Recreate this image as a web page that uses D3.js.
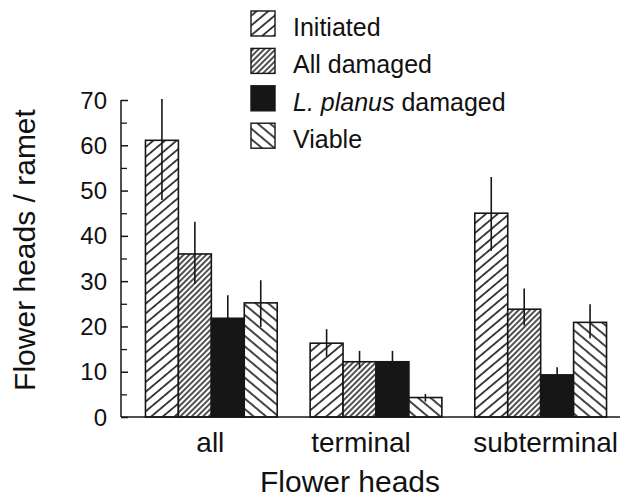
<!DOCTYPE html>
<html>
<head>
<meta charset="utf-8">
<script src="https://cdn.jsdelivr.net/npm/d3@7"></script>
<style>
  html, body { margin: 0; padding: 0; background: #fff; }
  svg { display: block; }
  text { font-family: "Liberation Sans", Arial, Helvetica, sans-serif; fill: #111; }
</style>
</head>
<body>
<svg id="chart" width="634" height="499"></svg>
<script>
// ---- data ----
const groups = ["all", "terminal", "subterminal"];
const seriesNames = ["Initiated", "All damaged", "L. planus damaged", "Viable"];
const initiated     = [61.1, 16.3, 45.0];
const allDamaged    = [36.0, 12.2, 23.8];
const planusDamaged = [21.8, 12.2, 9.3];
const viable        = [25.2, 4.3, 20.9];
const initiatedHi     = [70.2, 19.4, 53.0];
const allDamagedHi    = [43.1, 14.6, 28.4];
const planusDamagedHi = [26.9, 14.6, 11.0];
const viableHi        = [30.2, 5.1, 24.9];
const initiatedLo     = [47.9, 13.3, 36.7];
const allDamagedLo    = [29.4, 10.7, 20.2];
const planusDamagedLo = [16.7, 9.8, 7.6];
const viableLo        = [19.9, 3.4, 17.4];
const yTicks = [0, 10, 20, 30, 40, 50, 60, 70];
const yMinorTicks = [5, 15, 25, 35, 45, 55, 65];

const values = [initiated, allDamaged, planusDamaged, viable];
const his = [initiatedHi, allDamagedHi, planusDamagedHi, viableHi];
const los = [initiatedLo, allDamagedLo, planusDamagedLo, viableLo];

const rows = [];
seriesNames.forEach((s, si) => {
  groups.forEach((g, gi) => {
    rows.push({ series: s, si, group: g, v: values[si][gi], hi: his[si][gi], lo: los[si][gi] });
  });
});

// ---- layout ----
const svg = d3.select("#chart");
const ink = "#161616";
const x0 = d3.scaleBand().domain(groups).range([129, 623]).paddingInner(0.2).paddingOuter(0.1);
const x1 = d3.scaleBand().domain(seriesNames).range([0, x0.bandwidth()]);
const y = d3.scaleLinear().domain([0, 70]).range([417, 100]);

// ---- patterns ----
const defs = svg.append("defs");
function hatch(id, spacing, angle, sw) {
  const p = defs.append("pattern")
    .attr("id", id).attr("patternUnits", "userSpaceOnUse")
    .attr("width", spacing).attr("height", spacing)
    .attr("patternTransform", `rotate(${angle})`);
  p.append("rect").attr("width", spacing).attr("height", spacing).attr("fill", "#fff");
  p.append("line").attr("x1", spacing / 2).attr("y1", -1).attr("x2", spacing / 2).attr("y2", spacing + 1)
    .attr("stroke", ink).attr("stroke-width", sw);
}
hatch("pInit", 7.5, 50, 1.6);
hatch("pAll", 4, 45, 1.5);
hatch("pViable", 8, -50, 1.6);
const fills = ["url(#pInit)", "url(#pAll)", ink, "url(#pViable)"];

// ---- bars ----
svg.append("g").selectAll("rect").data(rows).join("rect")
  .attr("x", d => x0(d.group) + x1(d.series))
  .attr("y", d => y(d.v))
  .attr("width", x1.bandwidth())
  .attr("height", d => y(0) - y(d.v))
  .attr("fill", d => fills[d.si])
  .attr("stroke", ink).attr("stroke-width", 1.6);

// ---- error bars ----
svg.append("g").selectAll("line").data(rows).join("line")
  .attr("x1", d => x0(d.group) + x1(d.series) + x1.bandwidth() / 2)
  .attr("x2", d => x0(d.group) + x1(d.series) + x1.bandwidth() / 2)
  .attr("y1", d => y(d.hi))
  .attr("y2", d => y(d.lo))
  .attr("stroke", ink).attr("stroke-width", 1.6);

// ---- y axis ----
const yAxis = svg.append("g").attr("transform", "translate(121,0)")
  .call(d3.axisRight(y).tickValues(yTicks).tickSize(7).tickFormat(""));
yAxis.select(".domain").attr("d", `M0,${y(70)}V${y(0)}`).attr("stroke", ink).attr("stroke-width", 1.5);
yAxis.selectAll(".tick line").attr("stroke", ink).attr("stroke-width", 1.5);
const yMinor = svg.append("g").attr("transform", "translate(121,0)")
  .call(d3.axisRight(y).tickValues(yMinorTicks).tickSize(6).tickFormat(""));
yMinor.select(".domain").remove();
yMinor.selectAll(".tick line").attr("stroke", ink).attr("stroke-width", 1.3);

svg.append("g").selectAll("text").data(yTicks).join("text")
  .attr("x", 107).attr("y", d => y(d)).attr("dy", "0.36em")
  .attr("text-anchor", "end").attr("font-size", 24)
  .text(d => d);

// ---- x baseline ----
svg.append("line").attr("x1", 121).attr("x2", 620).attr("y1", y(0)).attr("y2", y(0))
  .attr("stroke", ink).attr("stroke-width", 1.6);

const labelNudge = { all: -1, terminal: -15, subterminal: 5 };
svg.append("g").selectAll("text").data(groups).join("text")
  .attr("x", d => x0(d) + x0.bandwidth() / 2 + labelNudge[d])
  .attr("y", 452).attr("text-anchor", "middle").attr("font-size", 28)
  .text(d => d);

// ---- axis titles ----
svg.append("text").attr("x", 350).attr("y", 492).attr("text-anchor", "middle")
  .attr("font-size", 30).text("Flower heads");
svg.append("text").attr("transform", "translate(35,250) rotate(-90)")
  .attr("text-anchor", "middle").attr("font-size", 30).text("Flower heads / ramet");

// ---- legend ----
const legend = svg.append("g").selectAll("g").data(seriesNames).join("g")
  .attr("transform", (d, i) => `translate(251,${11 + i * 37.4})`);
legend.append("rect").attr("width", 24).attr("height", 25)
  .attr("fill", (d, i) => fills[i]).attr("stroke", ink).attr("stroke-width", 1.4);
const lt = legend.append("text").attr("x", 42).attr("y", 25).attr("font-size", 25);
lt.each(function (d) {
  const t = d3.select(this);
  if (d.startsWith("L. planus")) {
    t.append("tspan").attr("font-style", "italic").text("L. planus");
    t.append("tspan").text(d.slice("L. planus".length));
  } else {
    t.text(d);
  }
});
</script>
</body>
</html>
